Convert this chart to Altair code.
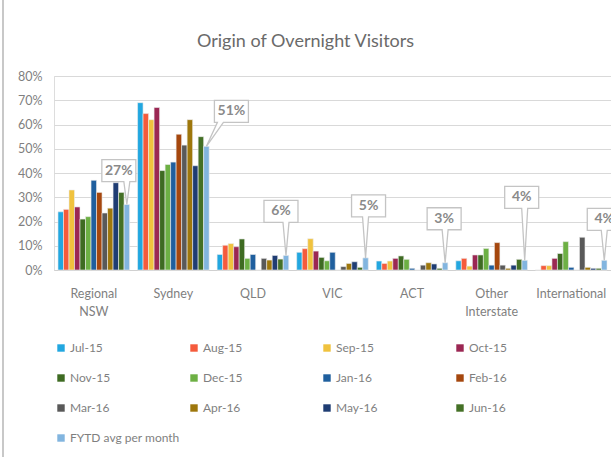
import altair as alt
import pandas as pd

# Origin categories and the monthly series
categories = ["Regional NSW", "Sydney", "QLD", "VIC", "ACT", "Other Interstate", "International"]
series = ["Jul-15", "Aug-15", "Sep-15", "Oct-15", "Nov-15", "Dec-15", "Jan-16",
          "Feb-16", "Mar-16", "Apr-16", "May-16", "Jun-16", "FYTD avg per month"]
series_colors = ["#22A7E0", "#F55B3C", "#F0C23E", "#9B2753", "#3E6B22", "#6DB044", "#1F5F9E",
                 "#A5470E", "#595959", "#9E770C", "#1F3D73", "#447026", "#82B5DF"]

# Share of overnight visitors (%) by origin, one list per month
jul_15 = [24, 69, 6.4, 7.3, 3.7, 3.8, 0]
aug_15 = [25, 64.5, 10.2, 8.8, 2.7, 4.8, 1.8]
sep_15 = [33, 62, 10.9, 12.9, 3.7, 1.6, 1.8]
oct_15 = [26, 67, 9.6, 7.8, 4.8, 6.2, 4.8]
nov_15 = [21, 41, 12.8, 5.2, 5.8, 6.2, 6.8]
dec_15 = [22, 43.5, 4.8, 3.8, 4.4, 8.9, 11.7]
jan_16 = [37, 44.5, 6.4, 7.3, 0.7, 2, 1.1]
feb_16 = [32, 56, 0, 0, 0, 11.3, 0]
mar_16 = [23.5, 51.5, 4.8, 1.4, 2, 2, 13.5]
apr_16 = [25.5, 62, 4.1, 2.7, 3, 0.7, 1.1]
may_16 = [36, 43, 6, 3.4, 2.5, 2, 0.7]
jun_16 = [32, 55, 4.5, 1.1, 0.7, 4.4, 0.7]
fytd_avg = [27, 51, 6, 5, 3, 4, 4]

monthly = [jul_15, aug_15, sep_15, oct_15, nov_15, dec_15, jan_16,
           feb_16, mar_16, apr_16, may_16, jun_16, fytd_avg]

rows = []
for name, values in zip(series, monthly):
    for cat, v in zip(categories, values):
        rows.append({"origin": cat, "period": name, "share": v})
df = pd.DataFrame(rows)

# Callout placement: box centre relative to the tip of the FYTD bar, in pixels
callout_dx = [-8, 25, -5, 3, -1, -3, 0]
callout_dy = [-34, -35, -44, -52, -44, -63, -41]
BOX_W, BOX_H = 17, 11


def callout_path(cx, cy):
    left, right = cx - BOX_W, cx + BOX_W
    top, bottom = cy - BOX_H, cy + BOX_H
    b = min(max(0, left + 6), right - 6)
    return (f"M{left},{top}L{right},{top}L{right},{bottom}L{b + 3},{bottom}"
            f"L0,0L{b - 3},{bottom}L{left},{bottom}Z")


calls = pd.DataFrame({
    "origin": categories,
    "period": "FYTD avg per month",
    "share": fytd_avg,
    "label": [f"{v}%" for v in fytd_avg],
    "shape": [callout_path(dx, dy) for dx, dy in zip(callout_dx, callout_dy)],
})

FONT = "Lato"
GREY = "#7F7F7F"

x_axis = alt.Axis(title=None, labelAngle=0, labelExpr="split(datum.value, ' ')",
                  labelLineHeight=18, labelPadding=17, labelFontSize=12.5,
                  labelColor=GREY, labelFont=FONT, ticks=False,
                  domainColor="#D0D0D0", domainWidth=1.2)
y_axis = alt.Axis(title=None, values=list(range(0, 81, 10)), labelExpr="datum.value + '%'",
                  labelFontSize=12.5, labelColor=GREY, labelFont=FONT, labelPadding=12,
                  labelOverlap=False, ticks=False, domain=False,
                  gridColor="#D9D9D9", gridWidth=1.2)
x_scale = alt.Scale(paddingInner=0.1, paddingOuter=0.05)
xoff_scale = alt.Scale(domain=series, paddingInner=0)
y_scale = alt.Scale(domain=[0, 80], nice=False)

x_enc = alt.X("origin:N", sort=categories, scale=x_scale, axis=x_axis)
xoff_enc = alt.XOffset("period:N", sort=series, scale=xoff_scale)
y_enc = alt.Y("share:Q", scale=y_scale, axis=y_axis)

bars = alt.Chart(df).mark_bar(stroke="#EDEDED", strokeWidth=0.6).encode(
    x=x_enc,
    xOffset=xoff_enc,
    y=y_enc,
    color=alt.Color("period:N", sort=series,
                    scale=alt.Scale(domain=series, range=series_colors),
                    legend=alt.Legend(title=None, orient="none", legendX=1, legendY=266,
                                      direction="horizontal", columns=4, gridAlign="all",
                                      columnPadding=8, rowPadding=18, labelLimit=140,
                                      symbolType="square", symbolSize=55,
                                      symbolStrokeWidth=0, labelFontSize=12,
                                      labelColor=GREY, labelFont=FONT, labelOffset=3)),
)

boxes = alt.Chart(calls).mark_point(filled=True, fill="white", stroke="#C4C4C4",
                                    strokeWidth=1.3, opacity=1).encode(
    x=x_enc, xOffset=xoff_enc, y=y_enc,
    shape=alt.Shape("shape:N", scale=None),
    size=alt.value(4),
)

labels = []
for cat, dx, dy in zip(categories, callout_dx, callout_dy):
    labels.append(
        alt.Chart(calls).transform_filter(alt.datum.origin == cat)
        .mark_text(dx=dx, dy=dy, fontSize=14, font=FONT, fontWeight="bold", color="#8A8A8A")
        .encode(x=x_enc, xOffset=xoff_enc, y=y_enc, text="label:N")
    )

# left edge of the chart frame
frame = alt.Chart(pd.DataFrame({"k": [0]})).mark_rule(color="#C8C8C8", strokeWidth=2).encode(
    x=alt.value(-51), y=alt.value(-76), y2=alt.value(381))

chart = alt.layer(bars, boxes, *labels, frame).properties(
    width=557, height=194,
    title=alt.TitleParams("Origin of Overnight Visitors", fontSize=18, font=FONT,
                          fontWeight="normal", color="#6A6A6A", dx=-27, offset=-52),
    autosize=alt.AutoSizeParams(type="none"),
    padding={"left": 54, "top": 76, "right": 0, "bottom": 187},
).configure_view(stroke=None).configure(background="white")

chart.save("out.html", embed_options={"renderer": "svg", "actions": False})
